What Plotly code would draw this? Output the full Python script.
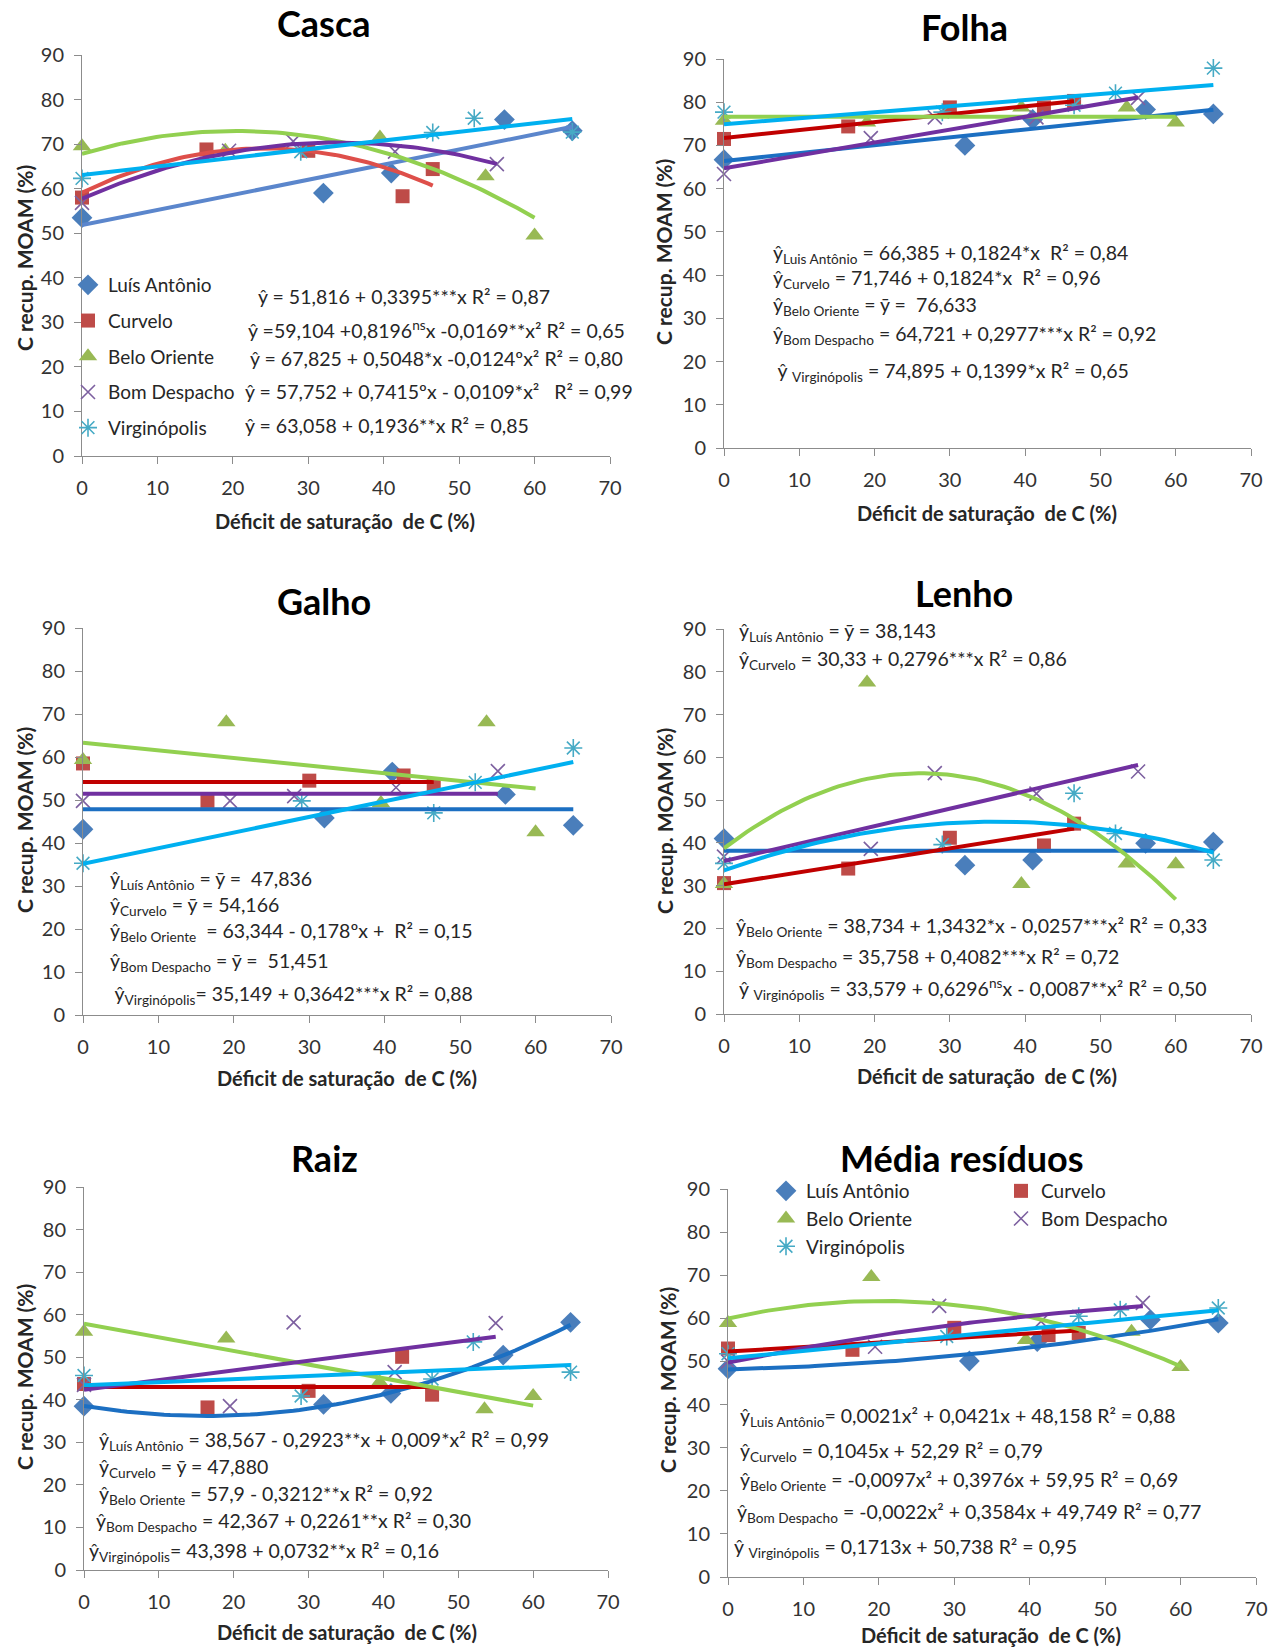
import numpy as np
import plotly.graph_objects as go

W, H = 1282, 1650
FONT = "Lato, 'Noto Sans', sans-serif"

# ---------------- data ----------------
site_names = ["Luís Antônio", "Curvelo", "Belo Oriente", "Bom Despacho", "Virginópolis"]
x_la = [0, 32, 41, 56, 65]
x_cu = [0, 16.5, 30, 42.5, 46.5]
x_bo = [0, 19, 39.5, 53.5, 60]
x_bd = [0, 19.5, 28, 41.5, 55]
x_vi = [0, 29, 46.5, 52, 65]

# Casca
casca_la = [53.5, 59.0, 63.5, 75.5, 73.0]
casca_cu = [58.0, 68.8, 68.5, 58.3, 64.4]
casca_bo = [69.5, 68.5, 71.5, 62.8, 49.5]
casca_bd = [56.8, 68.5, 70.6, 68.3, 65.5]
casca_vi = [62.3, 68.3, 72.6, 75.8, 72.7]
casca_fit_la = [51.816, 0.3395, 0.0]
casca_fit_cu = [59.104, 0.8196, -0.0169]
casca_fit_bo = [67.825, 0.5048, -0.0124]
casca_fit_bd = [57.752, 0.7415, -0.0109]
casca_fit_vi = [63.058, 0.1936, 0.0]

# Folha
folha_la = [66.7, 70.0, 76.0, 78.3, 77.3]
folha_cu = [71.5, 74.4, 78.8, 78.8, 80.3]
folha_bo = [75.7, 75.3, 78.8, 78.8, 75.3]
folha_bd = [63.4, 71.7, 76.5, 76.5, 81.0]
folha_vi = [77.7, 77.7, 79.3, 82.1, 87.9]
folha_fit_la = [66.385, 0.1824, 0.0]
folha_fit_cu = [71.746, 0.1824, 0.0]
folha_fit_bo = [76.633, 0.0, 0.0]
folha_fit_bd = [64.721, 0.2977, 0.0]
folha_fit_vi = [74.895, 0.1399, 0.0]

# Galho
galho_la = [43.2, 45.8, 56.5, 51.3, 44.1]
galho_cu = [58.5, 49.8, 54.5, 55.7, 53.7]
galho_bo = [59.3, 68.1, 49.3, 68.1, 42.5]
galho_bd = [49.8, 49.8, 50.9, 52.9, 56.7]
galho_vi = [35.3, 49.8, 47.0, 54.1, 62.1]
galho_fit_la = [47.836, 0.0, 0.0]
galho_fit_cu = [54.166, 0.0, 0.0]
galho_fit_bo = [63.344, -0.178, 0.0]
galho_fit_bd = [51.451, 0.0, 0.0]
galho_fit_vi = [35.149, 0.3642, 0.0]

# Lenho
lenho_la = [41.0, 34.8, 36.0, 39.9, 40.2]
lenho_cu = [30.6, 34.0, 41.2, 39.4, 44.5]
lenho_bo = [30.4, 77.5, 30.4, 35.2, 35.0]
lenho_bd = [36.8, 38.6, 56.3, 51.5, 56.7]
lenho_vi = [35.2, 39.6, 51.6, 42.2, 36.0]
lenho_fit_la = [38.143, 0.0, 0.0]
lenho_fit_cu = [30.33, 0.2796, 0.0]
lenho_fit_bo = [38.734, 1.3432, -0.0257]
lenho_fit_bd = [35.758, 0.4082, 0.0]
lenho_fit_vi = [33.579, 0.6296, -0.0087]

# Raiz
raiz_la = [38.5, 38.9, 41.5, 50.5, 58.2]
raiz_cu = [43.7, 38.2, 42.1, 50.1, 41.2]
raiz_bo = [56.0, 54.4, 44.1, 37.8, 40.9]
raiz_bd = [43.5, 38.5, 58.2, 46.5, 58.0]
raiz_vi = [45.7, 40.9, 44.9, 53.6, 46.5]
raiz_fit_la = [38.567, -0.2923, 0.009]
raiz_fit_cu = [43.0, 0.0, 0.0]
raiz_fit_bo = [57.9, -0.3212, 0.0]
raiz_fit_bd = [42.367, 0.2261, 0.0]
raiz_fit_vi = [43.398, 0.0732, 0.0]

# Média resíduos
media_la = [48.3, 50.1, 54.6, 59.7, 58.9]
media_cu = [53.0, 52.7, 57.8, 56.1, 56.6]
media_bo = [58.9, 69.6, 55.0, 56.9, 48.7]
media_bd = [50.0, 53.4, 62.9, 59.3, 63.6]
media_vi = [51.8, 55.8, 60.5, 62.0, 62.4]
media_fit_la = [48.158, 0.0421, 0.0021]
media_fit_cu = [52.29, 0.1045, 0.0]
media_fit_bo = [59.95, 0.3976, -0.0097]
media_fit_bd = [49.749, 0.3584, -0.0022]
media_fit_vi = [50.738, 0.1713, 0.0]

x_ticks = [0, 10, 20, 30, 40, 50, 60, 70]
y_ticks = [0, 10, 20, 30, 40, 50, 60, 70, 80, 90]

casca_eq = [
    "ŷ = 51,816 + 0,3395***x R² = 0,87",
    "ŷ =59,104 +0,8196<sup>ns</sup>x -0,0169**x² R² = 0,65",
    "ŷ = 67,825 + 0,5048*x -0,0124ºx² R² = 0,80",
    "ŷ = 57,752 + 0,7415ºx - 0,0109*x²   R² = 0,99",
    "ŷ = 63,058 + 0,1936**x R² = 0,85",
]
folha_eq = [
    "ŷ<sub>Luis Antônio</sub> = 66,385 + 0,1824*x  R² = 0,84",
    "ŷ<sub>Curvelo</sub> = 71,746 + 0,1824*x  R² = 0,96",
    "ŷ<sub>Belo Oriente</sub> = ȳ =  76,633",
    "ŷ<sub>Bom Despacho</sub> = 64,721 + 0,2977***x R² = 0,92",
    " ŷ <sub>Virginópolis</sub> = 74,895 + 0,1399*x R² = 0,65",
]
galho_eq = [
    "ŷ<sub>Luís Antônio</sub> = ȳ =  47,836",
    "ŷ<sub>Curvelo</sub> = ȳ = 54,166",
    "ŷ<sub>Belo Oriente</sub>  = 63,344 - 0,178ºx +  R² = 0,15",
    "ŷ<sub>Bom Despacho</sub> = ȳ =  51,451",
    " ŷ<sub>Virginópolis</sub>= 35,149 + 0,3642***x R² = 0,88",
]
lenho_eq_top = [
    "ŷ<sub>Luís Antônio</sub> = ȳ = 38,143",
    "ŷ<sub>Curvelo</sub> = 30,33 + 0,2796***x R² = 0,86",
]
lenho_eq_bottom = [
    "ŷ<sub>Belo Oriente</sub> = 38,734 + 1,3432*x - 0,0257***x² R² = 0,33",
    "ŷ<sub>Bom Despacho</sub> = 35,758 + 0,4082***x R² = 0,72",
    "ŷ <sub>Virginópolis</sub> = 33,579 + 0,6296<sup>ns</sup>x - 0,0087**x² R² = 0,50",
]
raiz_eq = [
    "ŷ<sub>Luís Antônio</sub> = 38,567 - 0,2923**x + 0,009*x² R² = 0,99",
    "ŷ<sub>Curvelo</sub> = ȳ = 47,880",
    "ŷ<sub>Belo Oriente</sub> = 57,9 - 0,3212**x R² = 0,92",
    "ŷ<sub>Bom Despacho</sub> = 42,367 + 0,2261**x R² = 0,30",
    "ŷ<sub>Virginópolis</sub>= 43,398 + 0,0732**x R² = 0,16",
]
media_eq = [
    "ŷ<sub>Luis Antônio</sub>= 0,0021x² + 0,0421x + 48,158 R² = 0,88",
    "ŷ<sub>Curvelo</sub> = 0,1045x + 52,29 R² = 0,79",
    "ŷ<sub>Belo Oriente</sub> = -0,0097x² + 0,3976x + 59,95 R² = 0,69",
    "ŷ<sub>Bom Despacho</sub> = -0,0022x² + 0,3584x + 49,749 R² = 0,77",
    "ŷ <sub>Virginópolis</sub> = 0,1713x + 50,738 R² = 0,95",
]

# ---------------- styles ----------------
site_x = [x_la, x_cu, x_bo, x_bd, x_vi]
marker_styles = [
    dict(symbol="diamond", size=16, color="#4A7EBB", line=dict(width=0)),
    dict(symbol="square", size=14, color="#BE4B48", line=dict(width=0)),
    dict(symbol="triangle-up", size=16, color="#98B954", line=dict(width=0)),
    dict(symbol="x-thin-open", size=14, color="#7D60A0", line=dict(color="#7D60A0", width=1.6)),
    dict(symbol="asterisk-open", size=15, color="#46AAC5", line=dict(color="#46AAC5", width=1.6)),
]
line_colors = ["#1C6FC2", "#C00000", "#92D050", "#7030A0", "#00B0F0"]
casca_line_colors = ["#5B86CC", "#DE4F4A", "#92D050", "#7030A0", "#00B0F0"]

panels = [
    dict(key="casca", title="Casca", x0=82, x1=610, ytop=55, ybot=456,
         tc=(324, 23), xt=(345, 521), yt=(24, 258),
         pts=[casca_la, casca_cu, casca_bo, casca_bd, casca_vi],
         fits=[casca_fit_la, casca_fit_cu, casca_fit_bo, casca_fit_bd, casca_fit_vi],
         lc=casca_line_colors),
    dict(key="folha", title="Folha", x0=724, x1=1251, ytop=59, ybot=448,
         tc=(964, 27), xt=(987, 513), yt=(664, 252),
         pts=[folha_la, folha_cu, folha_bo, folha_bd, folha_vi],
         fits=[folha_fit_la, folha_fit_cu, folha_fit_bo, folha_fit_bd, folha_fit_vi],
         lc=line_colors),
    dict(key="galho", title="Galho", x0=83, x1=611, ytop=628, ybot=1015,
         tc=(324, 601), xt=(347, 1078), yt=(24, 820),
         pts=[galho_la, galho_cu, galho_bo, galho_bd, galho_vi],
         fits=[galho_fit_la, galho_fit_cu, galho_fit_bo, galho_fit_bd, galho_fit_vi],
         lc=line_colors),
    dict(key="lenho", title="Lenho", x0=724, x1=1251, ytop=629, ybot=1014,
         tc=(964, 593), xt=(987, 1076), yt=(664, 821),
         pts=[lenho_la, lenho_cu, lenho_bo, lenho_bd, lenho_vi],
         fits=[lenho_fit_la, lenho_fit_cu, lenho_fit_bo, lenho_fit_bd, lenho_fit_vi],
         lc=line_colors),
    dict(key="raiz", title="Raiz", x0=84, x1=608, ytop=1187, ybot=1570,
         tc=(324, 1158), xt=(347, 1632), yt=(24, 1377),
         pts=[raiz_la, raiz_cu, raiz_bo, raiz_bd, raiz_vi],
         fits=[raiz_fit_la, raiz_fit_cu, raiz_fit_bo, raiz_fit_bd, raiz_fit_vi],
         lc=line_colors),
    dict(key="media", title="Média resíduos", x0=728, x1=1256, ytop=1189, ybot=1577,
         tc=(962, 1158), xt=(991, 1635), yt=(667, 1380),
         pts=[media_la, media_cu, media_bo, media_bd, media_vi],
         fits=[media_fit_la, media_fit_cu, media_fit_bo, media_fit_bd, media_fit_vi],
         lc=line_colors),
]

# equation annotation positions (left x px, center y px)
eq_blocks = [
    (casca_eq, [(256, 296), (246, 330), (248, 359), (243, 392), (243, 425)]),
    (folha_eq, [(771, 254), (771, 279), (771, 306), (771, 335), (771, 372)]),
    (galho_eq, [(108, 880), (108, 906), (108, 932), (108, 962), (108, 995)]),
    (lenho_eq_top, [(737, 632), (737, 660)]),
    (lenho_eq_bottom, [(734, 927), (734, 958), (737, 989)]),
    (raiz_eq, [(97, 1441), (97, 1468), (97, 1495), (94, 1522), (87, 1552)]),
    (media_eq, [(738, 1417), (738, 1452), (738, 1481), (735, 1513), (732, 1548)]),
]


def px_x(v):
    return v / W


def px_y(v):
    return 1 - v / H


fig = go.Figure()
layout_axes = {}
annotations = []

for i, p in enumerate(panels):
    n = i + 1
    xa = "x" if n == 1 else f"x{n}"
    ya = "y" if n == 1 else f"y{n}"
    xname = "xaxis" if n == 1 else f"xaxis{n}"
    yname = "yaxis" if n == 1 else f"yaxis{n}"
    tickfont = dict(family=FONT, size=20, color="#333333")
    layout_axes[xname] = dict(
        domain=[px_x(p["x0"]), px_x(p["x1"])], anchor=ya, range=[0, 70],
        tickvals=x_ticks, showline=True, linecolor="#8C8C8C", linewidth=1,
        ticks="outside", ticklen=7, tickcolor="#8C8C8C", showgrid=False,
        zeroline=False, tickfont=tickfont, ticklabelstandoff=7, fixedrange=True,
        automargin=False)
    layout_axes[yname] = dict(
        domain=[px_y(p["ybot"]), px_y(p["ytop"])], anchor=xa, range=[0, 90],
        tickvals=y_ticks, showline=True, linecolor="#8C8C8C", linewidth=1,
        ticks="outside", ticklen=7, tickcolor="#8C8C8C", showgrid=False,
        zeroline=False, tickfont=tickfont, ticklabelstandoff=6, fixedrange=True,
        automargin=False)

    # markers
    for s in range(5):
        legend_name = None
        show = False
        if p["key"] == "casca":
            show, legend_name = True, "legend"
        elif p["key"] == "media":
            show = True
            legend_name = "legend2" if s in (0, 2, 4) else "legend3"
        tr = dict(
            x=site_x[s], y=p["pts"][s], mode="markers", name=site_names[s],
            marker=marker_styles[s], xaxis=xa, yaxis=ya, cliponaxis=False,
            showlegend=show, legendgroup=f"{p['key']}_{s}", hoverinfo="skip")
        if legend_name:
            tr["legend"] = legend_name
        fig.add_trace(go.Scatter(**tr))

    # fitted curves
    for s in range(5):
        c = p["fits"][s]
        xs = np.linspace(0, max(site_x[s]), 80)
        ys = c[0] + c[1] * xs + c[2] * xs ** 2
        fig.add_trace(go.Scatter(
            x=xs, y=ys, mode="lines", line=dict(color=p["lc"][s], width=4),
            xaxis=xa, yaxis=ya, showlegend=False, hoverinfo="skip", cliponaxis=False))

    annotations.append(dict(
        text=f"<b>{p['title']}</b>", x=px_x(p["tc"][0]), y=px_y(p["tc"][1]),
        xref="paper", yref="paper", showarrow=False, xanchor="center", yanchor="middle",
        font=dict(family=FONT, size=36, color="#000000")))
    annotations.append(dict(
        text="<b>Déficit de saturação  de C (%)</b>", x=px_x(p["xt"][0]), y=px_y(p["xt"][1]),
        xref="paper", yref="paper", showarrow=False, xanchor="center", yanchor="middle",
        font=dict(family=FONT, size=20, color="#262626")))
    annotations.append(dict(
        text="<b>C recup. MOAM (%)</b>", x=px_x(p["yt"][0]), y=px_y(p["yt"][1]),
        xref="paper", yref="paper", showarrow=False, xanchor="center", yanchor="middle",
        textangle=-90, font=dict(family=FONT, size=21, color="#262626")))

for texts, pos in eq_blocks:
    for t, (xp, yp) in zip(texts, pos):
        annotations.append(dict(
            text=t, x=px_x(xp), y=px_y(yp), xref="paper", yref="paper",
            showarrow=False, xanchor="left", yanchor="middle",
            font=dict(family=FONT, size=19.5, color="#262626")))

legend_font = dict(family=FONT, size=19, color="#262626")
fig.update_layout(
    width=W, height=H,
    margin=dict(l=0, r=0, t=0, b=0, pad=0, autoexpand=False),
    paper_bgcolor="white", plot_bgcolor="rgba(0,0,0,0)",
    showlegend=True,
    legend=dict(x=px_x(68), y=px_y(266), xanchor="left", yanchor="top",
                bgcolor="rgba(0,0,0,0)", font=legend_font, tracegroupgap=8,
                itemwidth=30, orientation="v"),
    legend2=dict(x=px_x(766), y=px_y(1172), xanchor="left", yanchor="top",
                 bgcolor="rgba(0,0,0,0)", font=legend_font, tracegroupgap=0,
                 itemwidth=30, orientation="v"),
    legend3=dict(x=px_x(1001), y=px_y(1172), xanchor="left", yanchor="top",
                 bgcolor="rgba(0,0,0,0)", font=legend_font, tracegroupgap=0,
                 itemwidth=30, orientation="v"),
    annotations=annotations,
    **layout_axes,
)

fig.write_html(
    "out.html",
    post_script="document.body.style.margin='0px';",
)
